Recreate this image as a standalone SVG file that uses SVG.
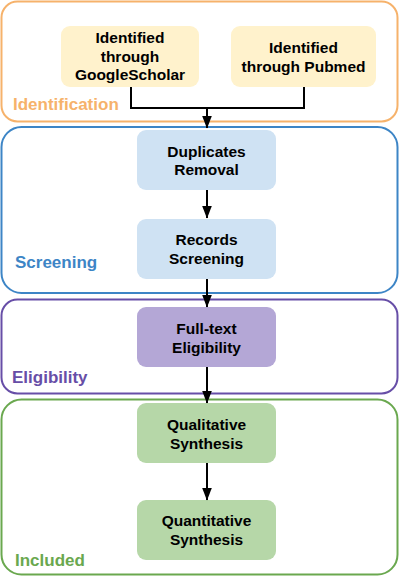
<svg xmlns="http://www.w3.org/2000/svg" width="400" height="577" viewBox="0 0 400 577">
<defs>
<marker id="arr" markerWidth="13" markerHeight="10" viewBox="0 0 13 10" refX="12.5" refY="5" markerUnits="userSpaceOnUse" orient="auto">
<path d="M0,0 L13,5 L0,10 Z" fill="#000"/>
</marker>
</defs>
<style>
.stage{fill:#fff;stroke-width:2}
.node{stroke:none}
.t{font-family:"Liberation Sans",Arial,sans-serif;font-weight:bold;font-size:15.5px;fill:#000;text-anchor:middle}
.lbl{font-family:"Liberation Sans",Arial,sans-serif;font-weight:bold;font-size:17px}
.c{fill:none;stroke:#000;stroke-width:2}
</style>
<g id="stage-identification">
<rect class="stage" x="1.5" y="1.5" width="396" height="120" rx="16" stroke="#F6B26B"/>
<text class="lbl" x="13" y="110" fill="#F6B26B">Identification</text>
</g>
<g id="stage-screening">
<rect class="stage" x="1.5" y="127" width="396" height="166" rx="20" stroke="#3D85C6"/>
<text class="lbl" x="15" y="268" fill="#3D85C6">Screening</text>
</g>
<g id="stage-eligibility">
<rect class="stage" x="1.5" y="299.5" width="396" height="94" rx="16" stroke="#674EA7"/>
<text class="lbl" x="12" y="383" fill="#674EA7">Eligibility</text>
</g>
<g id="stage-included">
<rect class="stage" x="1.5" y="399.5" width="396" height="175" rx="20" stroke="#6AA84F"/>
<text class="lbl" x="15" y="566" fill="#6AA84F">Included</text>
</g>
<g id="node-google">
<rect class="node" x="61" y="26" width="138" height="61" rx="9" fill="#FFF2CC"/>
<text class="t" x="130" y="43">Identified</text>
<text class="t" x="130" y="61.5">through</text>
<text class="t" x="130" y="80">GoogleScholar</text>
</g>
<g id="node-pubmed">
<rect class="node" x="231" y="26" width="145" height="61" rx="9" fill="#FFF2CC"/>
<text class="t" x="303.5" y="53">Identified</text>
<text class="t" x="303.5" y="72">through Pubmed</text>
</g>
<g id="node-duplicates">
<rect class="node" x="137" y="130" width="139" height="60" rx="9" fill="#CFE2F3"/>
<text class="t" x="206.5" y="156.5">Duplicates</text>
<text class="t" x="206.5" y="175">Removal</text>
</g>
<g id="node-records">
<rect class="node" x="137" y="219" width="139" height="60" rx="9" fill="#CFE2F3"/>
<text class="t" x="206.5" y="245">Records</text>
<text class="t" x="206.5" y="264">Screening</text>
</g>
<g id="node-fulltext">
<rect class="node" x="137" y="307" width="139" height="60" rx="9" fill="#B4A7D6"/>
<text class="t" x="206.5" y="333.5">Full-text</text>
<text class="t" x="206.5" y="353">Eligibility</text>
</g>
<g id="node-qualitative">
<rect class="node" x="137" y="403" width="139" height="60" rx="9" fill="#B6D7A8"/>
<text class="t" x="206.5" y="429.5">Qualitative</text>
<text class="t" x="206.5" y="448.5">Synthesis</text>
</g>
<g id="node-quantitative">
<rect class="node" x="137" y="500" width="139" height="60" rx="9" fill="#B6D7A8"/>
<text class="t" x="206.5" y="526">Quantitative</text>
<text class="t" x="206.5" y="545">Synthesis</text>
</g>
<g id="connectors">
<polyline class="c" points="131,87 131,108 304,108 304,87"/>
<line class="c" x1="207" y1="108" x2="207" y2="128" marker-end="url(#arr)"/>
<line class="c" x1="207" y1="190" x2="207" y2="218" marker-end="url(#arr)"/>
<line class="c" x1="207" y1="279" x2="207" y2="307" marker-end="url(#arr)"/>
<line class="c" x1="207" y1="367" x2="207" y2="403" marker-end="url(#arr)"/>
<line class="c" x1="207" y1="463" x2="207" y2="500" marker-end="url(#arr)"/>
</g>
</svg>
